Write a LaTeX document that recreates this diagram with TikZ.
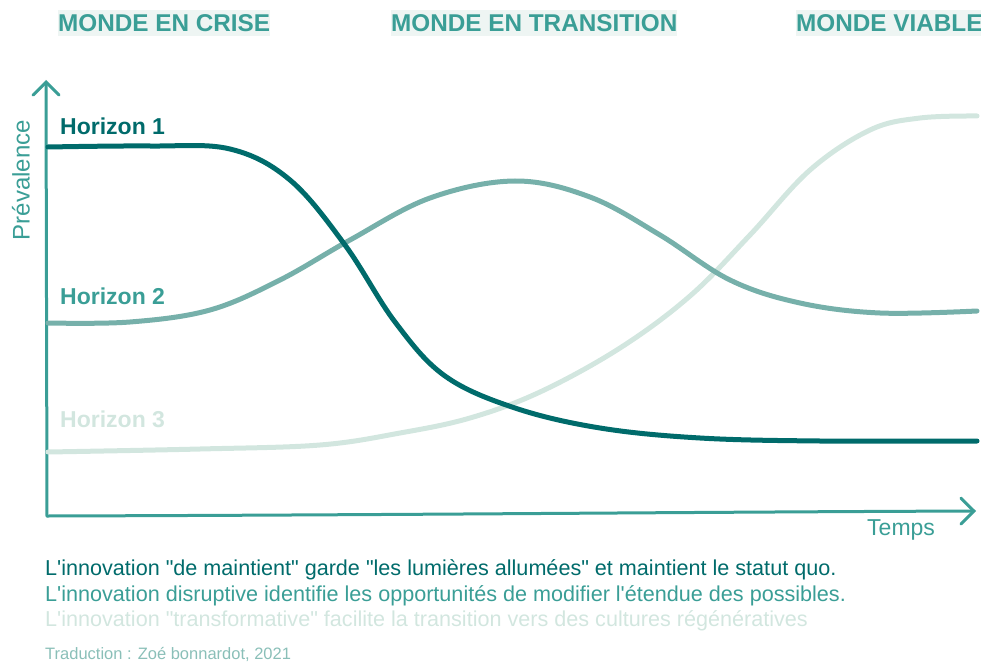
\documentclass[tikz,border=0pt]{standalone}
\usepackage{fontspec}
\setmainfont{Liberation Sans}[Ligatures=TeXOff]
\usetikzlibrary{arrows.meta}
\definecolor{hdark}{HTML}{006B6B}
\definecolor{hmid}{HTML}{3A9E96}
\definecolor{htwo}{HTML}{76B0AA}
\definecolor{hlight}{HTML}{D2E6DF}
\definecolor{hbg}{HTML}{EEF5F3}
\definecolor{hfoot}{HTML}{8ABFB8}
\tikzset{
  header/.style={fill=hbg, text=hmid, font=\fontsize{24.3}{29}\selectfont\bfseries, inner xsep=0pt, inner ysep=0pt, minimum height=26pt, anchor=west},
  hlabel/.style={font=\fontsize{23}{27}\selectfont\bfseries, inner sep=0pt, anchor=west},
  axisline/.style={draw=hmid, line width=3pt, line cap=round, -{Straight Barb[length=13pt,width=26pt,line cap=round]}},
  curve/.style={line width=5pt, line cap=round},
  caption/.style={font=\fontsize{21.6}{25}\selectfont, inner sep=0pt, anchor=west},
}
\begin{document}
\begin{tikzpicture}[x=1pt,y=-1pt]
\useasboundingbox (0,0) rectangle (981,663);
% headers
\node[header] (h1) at (58,23) {MONDE EN CRISE};
\node[header] (h2) at (391,23) {MONDE EN TRANSITION};
\node[header] (h3) at (796,23) {MONDE VIABLE};
% axes
\coordinate (o) at (47,516);
\coordinate (ytop) at (46,80);
\coordinate (xend) at (976,511);
\draw[axisline] (o) -- (ytop);
\draw[axisline] (o) .. controls (400,515) and (700,512) .. (xend);
\node[text=hmid, font=\fontsize{24}{28}\selectfont, rotate=90, inner sep=0pt] (prev) at (21,180) {Prévalence};
\node[text=hmid, font=\fontsize{23}{27}\selectfont, inner sep=0pt, anchor=west] (temps) at (867,530) {Temps};
% curves
\draw[curve, hlight] plot[smooth, tension=0.6] coordinates {(48,452) (200,449) (320,445) (400,433) (470,418) (540,392) (620,348) (690,296) (750,235) (810,170) (870,130) (920,118) (977,116)};
\draw[curve, htwo] plot[smooth, tension=0.6] coordinates {(48,323) (130,322) (210,310) (280,280) (350,240) (430,198) (515,181) (590,197) (660,235) (730,280) (800,303) (880,313) (977,311)};
\draw[curve, hdark] plot[smooth, tension=0.6] coordinates {(48,147) (150,146) (230,149) (290,180) (345,245) (395,322) (445,376) (515,408) (600,428) (700,438) (820,441) (977,441)};
% horizon labels
\node[hlabel, text=hdark] (l1) at (60,126) {Horizon 1};
\node[hlabel, text=hmid] (l2) at (60,296) {Horizon 2};
\node[hlabel, text=hlight] (l3) at (60,419) {Horizon 3};
% captions
\node[caption, text=hdark] (c1) at (45,570) {L'innovation "de maintient" garde "les lumières allumées" et maintient le statut quo.};
\node[caption, text=hmid] (c2) at (45,596) {L'innovation disruptive identifie les opportunités de modifier l'étendue des possibles.};
\node[caption, text=hlight] (c3) at (45,621) {L'innovation "transformative" facilite la transition vers des cultures régénératives};
\node[font=\fontsize{16.5}{19}\selectfont, text=hfoot, inner sep=0pt, anchor=west] (foot) at (45,654) {Traduction : Zoé bonnardot, 2021};
\end{tikzpicture}
\end{document}
